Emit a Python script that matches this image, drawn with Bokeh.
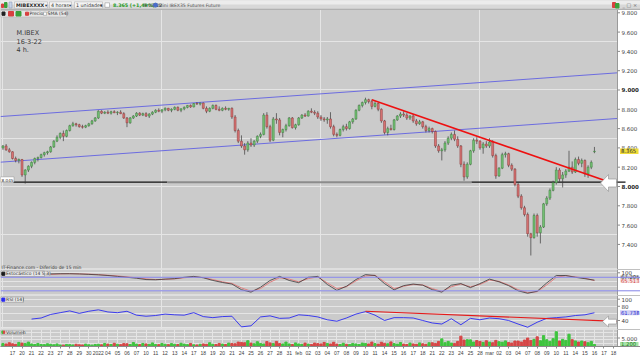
from bokeh.plotting import figure
from bokeh.layouts import column
from bokeh.models import Range1d, FixedTicker, AllLabels, Span
from bokeh.embed import file_html
from bokeh.resources import INLINE
from bokeh.core.properties import value

# ---------------- DATA ----------------
day_labels = ["17", "20", "21", "22", "23", "27", "28", "29", "30",
              "2022", "04", "05", "06", "07", "10", "11", "12", "13", "14", "17", "18", "19", "20", "21",
              "24", "25", "26", "27", "28", "31",
              "feb", "02", "03", "04", "07", "08", "09", "10", "11", "14", "15", "16", "17", "18",
              "21", "22", "23", "24", "25", "28",
              "mar", "02", "03", "04", "07", "08", "09", "10", "11", "14", "15", "16", "17", "18"]

# 4h bars (3 per session), Dec 16 2021 .. Mar 16 2022
opens = [8400, 8420, 8380, 8360, 8290, 8270, 8280, 8120, 8170, 8210, 8250, 8290,
         8300, 8330, 8350, 8360, 8410, 8470, 8510, 8550, 8520, 8580, 8630, 8650,
         8640, 8620, 8615, 8630, 8650, 8680, 8710, 8780, 8760, 8770, 8760, 8775,
         8765, 8770, 8755, 8710, 8660, 8710, 8730, 8760, 8740, 8755, 8730, 8750,
         8770, 8790, 8780, 8795, 8810, 8790, 8800, 8820, 8790, 8805, 8820, 8840,
         8825, 8860, 8855, 8865, 8810, 8780, 8810, 8840, 8800, 8790, 8810, 8800,
         8810, 8720, 8580, 8470, 8420, 8380, 8450, 8430, 8470, 8520, 8540, 8740,
         8620, 8480, 8700, 8690, 8560, 8590, 8630, 8710, 8610, 8640, 8710, 8740,
         8730, 8780, 8770, 8760, 8720, 8700, 8690, 8700, 8620, 8540, 8530, 8590,
         8620, 8600, 8670, 8700, 8790, 8840, 8870, 8900, 8880, 8830, 8860, 8800,
         8680, 8560, 8600, 8590, 8690, 8730, 8750, 8740, 8710, 8730, 8680, 8650,
         8670, 8620, 8580, 8600, 8570, 8420, 8370, 8380, 8450, 8500, 8540, 8490,
         8420, 8230, 8100, 8230, 8370, 8480, 8470, 8400, 8440, 8420, 8460, 8320,
         8110, 8190, 8330, 8340, 8220, 8180, 8020, 7900, 7780, 7710, 7510, 7470,
         7700, 7520, 7580, 7820, 7880, 7960, 8040, 8170, 8080, 8120, 8160, 8200,
         8150, 8280, 8240, 8270, 8130, 8200, 8360]
highs = [8430, 8440, 8400, 8365, 8310, 8290, 8285, 8180, 8220, 8260, 8300, 8310,
         8340, 8360, 8370, 8420, 8480, 8530, 8560, 8580, 8590, 8640, 8670, 8660,
         8650, 8640, 8640, 8660, 8690, 8720, 8790, 8790, 8780, 8790, 8785, 8790,
         8780, 8790, 8770, 8720, 8720, 8740, 8770, 8770, 8765, 8770, 8760, 8780,
         8800, 8810, 8800, 8820, 8815, 8810, 8830, 8830, 8810, 8830, 8845, 8850,
         8865, 8875, 8870, 8870, 8830, 8820, 8850, 8850, 8830, 8820, 8830, 8815,
         8820, 8740, 8600, 8530, 8450, 8470, 8500, 8480, 8530, 8560, 8760, 8770,
         8640, 8720, 8760, 8710, 8600, 8650, 8720, 8720, 8650, 8720, 8750, 8760,
         8790, 8810, 8790, 8780, 8740, 8720, 8720, 8770, 8640, 8560, 8600, 8640,
         8650, 8680, 8710, 8800, 8850, 8880, 8920, 8910, 8900, 8880, 8870, 8810,
         8690, 8620, 8640, 8700, 8740, 8770, 8780, 8760, 8740, 8750, 8700, 8690,
         8680, 8640, 8620, 8610, 8580, 8440, 8400, 8470, 8520, 8560, 8580, 8520,
         8430, 8260, 8250, 8380, 8500, 8510, 8480, 8460, 8470, 8500, 8480, 8340,
         8200, 8350, 8360, 8350, 8240, 8190, 8040, 7920, 7800, 7730, 7520, 7720,
         7720, 7600, 7830, 7900, 7980, 8060, 8200, 8190, 8150, 8180, 8370, 8260,
         8300, 8310, 8290, 8280, 8220, 8270, 8410]
lows = [8380, 8370, 8350, 8280, 8250, 8240, 8100, 8030, 8150, 8190, 8230, 8260,
        8290, 8310, 8330, 8350, 8400, 8460, 8490, 8470, 8510, 8570, 8620, 8620,
        8610, 8600, 8605, 8620, 8640, 8670, 8700, 8750, 8750, 8750, 8745, 8760,
        8740, 8750, 8700, 8615, 8650, 8700, 8720, 8730, 8730, 8720, 8710, 8740,
        8760, 8770, 8760, 8780, 8780, 8770, 8790, 8780, 8770, 8790, 8810, 8815,
        8820, 8845, 8840, 8800, 8760, 8770, 8800, 8790, 8780, 8780, 8790, 8785,
        8700, 8560, 8450, 8400, 8330, 8360, 8410, 8410, 8450, 8500, 8530, 8600,
        8460, 8470, 8650, 8530, 8510, 8570, 8620, 8600, 8590, 8630, 8700, 8720,
        8725, 8760, 8740, 8700, 8680, 8670, 8650, 8600, 8520, 8510, 8520, 8570,
        8580, 8590, 8650, 8690, 8780, 8820, 8850, 8860, 8800, 8820, 8780, 8660,
        8540, 8530, 8580, 8580, 8680, 8710, 8720, 8690, 8690, 8660, 8630, 8640,
        8600, 8560, 8560, 8550, 8400, 8350, 8270, 8360, 8430, 8480, 8470, 8400,
        8200, 8060, 8080, 8220, 8350, 8440, 8380, 8340, 8400, 8400, 8300, 8080,
        8100, 8180, 8300, 8200, 8160, 8000, 7880, 7760, 7690, 7480, 7285, 7460,
        7480, 7410, 7570, 7800, 7860, 7950, 8020, 8050, 7990, 8090, 8150, 8130,
        8140, 8220, 8200, 8100, 8090, 8180, 8345]
closes = [8420, 8380, 8360, 8290, 8270, 8280, 8120, 8170, 8210, 8250, 8290, 8300,
          8330, 8350, 8360, 8410, 8470, 8510, 8550, 8520, 8580, 8630, 8650, 8640,
          8620, 8615, 8630, 8650, 8680, 8710, 8780, 8760, 8770, 8760, 8775, 8765,
          8770, 8755, 8710, 8660, 8710, 8730, 8760, 8740, 8755, 8730, 8750, 8770,
          8790, 8780, 8795, 8810, 8790, 8800, 8820, 8790, 8805, 8820, 8840, 8825,
          8860, 8855, 8865, 8810, 8780, 8810, 8840, 8800, 8790, 8810, 8800, 8810,
          8720, 8580, 8470, 8420, 8380, 8450, 8430, 8470, 8520, 8540, 8740, 8620,
          8480, 8700, 8690, 8560, 8590, 8630, 8710, 8610, 8640, 8710, 8740, 8730,
          8780, 8770, 8760, 8720, 8700, 8690, 8700, 8620, 8540, 8530, 8590, 8620,
          8600, 8670, 8700, 8790, 8840, 8870, 8900, 8880, 8830, 8860, 8800, 8680,
          8560, 8600, 8590, 8690, 8730, 8750, 8740, 8710, 8730, 8680, 8650, 8670,
          8620, 8580, 8600, 8570, 8420, 8370, 8380, 8450, 8500, 8540, 8490, 8420,
          8230, 8100, 8230, 8370, 8480, 8470, 8400, 8440, 8420, 8460, 8320, 8110,
          8190, 8330, 8340, 8220, 8180, 8020, 7900, 7780, 7710, 7510, 7470, 7700,
          7520, 7580, 7820, 7880, 7960, 8040, 8170, 8080, 8120, 8160, 8200, 8150,
          8280, 8240, 8270, 8130, 8200, 8250, 8365]
volumes = [1800, 1500, 2200, 1600, 1300, 2400, 2000, 1700, 2600, 1500, 1200, 1800,
           1200, 1100, 1600, 1300, 1000, 1500, 900, 800, 1200, 1100, 900, 1300,
           1000, 900, 1400, 1000, 800, 1200, 1300, 1000, 1800, 1400, 1200, 1900,
           1300, 1100, 1700, 1600, 1200, 2300, 1400, 1100, 1800, 1500, 1300, 2100,
           1200, 1100, 1800, 1300, 1100, 1700, 1300, 1200, 1900, 1400, 1100, 1800,
           1000, 900, 1300, 1500, 1300, 2200, 1300, 1200, 1800, 1400, 1200, 2000,
           1800, 1600, 2600, 2400, 2200, 3400, 2000, 1600, 2800, 1800, 1500, 2900,
           2100, 1700, 3000, 1800, 1500, 2600, 1500, 1200, 2100, 1500, 1300, 2000,
           1400, 1200, 2000, 1700, 1500, 2400, 1800, 1500, 2500, 1400, 1200, 1900,
           1300, 1200, 1800, 1500, 1200, 2000, 1800, 1500, 2600, 1700, 1400, 2500,
           1900, 1600, 2700, 1700, 1400, 2300, 1400, 1200, 2000, 1500, 1300, 2100,
           1600, 1300, 2200, 2200, 1800, 3000, 4500, 2200, 3000, 2000, 1800, 3000,
           6100, 3800, 4000, 3900, 2600, 3500, 3000, 2400, 3400, 2600, 2200, 3600,
           2800, 2500, 3300, 2400, 2000, 3200, 3200, 2600, 3800, 5000, 3600, 4200,
           5700, 3400, 6400, 4000, 3000, 4600, 8700, 3200, 4200, 3600, 7200, 4000,
           3300, 2600, 3200, 2800, 2200, 3000, 1200]

# indicators sampled once per session (first value = session index given)
stoch_first_session = 4
stoch_k = [95, 96, 96, 95, 93, 91, 88, 84, 80, 76, 70, 69, 72, 74, 80, 84, 78, 66, 57, 50,
           25, 14, 36, 66, 84, 66, 56, 80, 84, 48, 22, 40, 70, 92, 88, 52, 24, 43, 50, 45,
           25, 14, 45, 52, 34, 52, 72, 60, 43, 20, 9, 18, 55, 88, 88, 80, 74, 67.2]
stoch_d = [93, 95, 96, 95, 94, 92, 89, 86, 82, 78, 73, 70, 71, 73, 78, 82, 79, 70, 60, 53,
           33, 18, 30, 58, 78, 72, 60, 74, 82, 55, 30, 38, 64, 86, 89, 60, 30, 40, 48, 46,
           30, 17, 38, 50, 38, 48, 68, 62, 46, 25, 12, 16, 46, 80, 87, 82, 76, 65.5]
rsi_first_session = 2
rsi = [44, 47, 57, 62, 67, 60, 66, 70, 64, 62, 66, 55, 52, 54, 58, 56, 55, 62, 51, 48,
       51, 52, 22, 25, 50, 53, 46, 47, 56, 54, 50, 42, 38, 47, 58, 65, 55, 40, 48, 48,
       47, 40, 33, 30, 45, 28, 46, 42, 47, 45, 40, 30, 21, 35, 46, 48, 50, 54, 56, 61.7]

# drawn trend lines (bar index, value)
channel_bars = [-0.77, 193.25]
channel_upper = [8725, 9178]
channel_lower = [8252, 8705]
downtrend_bars = [116, 192]
downtrend_prices = [8900, 8030]
support_level = 8045
support_bars = [3.3, 51.7, 147.3, 193.25]
rsi_trend_bars = [114, 193.25]
rsi_trend_vals = [66, 37.5]
stoch_bands = [80, 20]

price_ticks = [7400, 7600, 7800, 8000, 8200, 8400, 8600, 8800, 9000, 9200, 9400, 9600, 9800]
price_tick_labels = ["7.400", "7.600", "7.800", "8.000", "8.200", "8.400", "8.600", "8.800",
                     "9.000", "9.200", "9.400", "9.600", "9.800"]
stoch_ticks, stoch_tick_labels = [100], ["100"]
rsi_ticks, rsi_tick_labels = [40, 80, 100], ["40", "80", "100"]
vol_ticks, vol_tick_labels = [5000], ["5.000"]

last_price = 8365
last_price_label = "8.365"
stoch_last = ["67.205", "65.513"]
rsi_last_val, rsi_last = 61.738, "61.738"
vol_last = "1.200"

# ---------------- STYLE / GEOMETRY ----------------
FONT = "DejaVu Sans"
XFONT = "Liberation Sans"
BG = "#cbcbcb"
XR0, XR1 = -0.77, 193.25          # plot area: pixel 0 .. 617
FW = 617
XE = XR0 + 640 * (XR1 - XR0) / FW  # right edge of the page (axis column)
xr = Range1d(XR0, XE)
PR = (7140, 9927.3)   # price panel: pixel rows 0..269
SR = (-0.9, 114.7)    # rows 269..295
RR = (14.6, 110.4)    # rows 295..329
VR = (0, 10000)       # rows 329..349


def PX(p):
    return XR0 + p * (XR1 - XR0) / FW


def fig(h, yr, xaxis=False, bb=0):
    p = figure(width=640, height=h, x_range=xr, y_range=Range1d(*yr), toolbar_location=None,
               output_backend="svg", x_axis_location=("below" if xaxis else None),
               y_axis_location=None, min_border_left=0, min_border_right=0,
               min_border_top=0, min_border_bottom=bb,
               background_fill_color=BG, border_fill_color="white",
               outline_line_color="#dedede", outline_line_width=1)
    return p


def txt(p, xs, ys, texts, size="5px", color="#333333", bold=False, align="left", font=FONT):
    p.text(x=xs, y=ys, text=texts, text_font=value(font), text_font_size=value(size),
           text_color=color, text_baseline="middle", text_align=align,
           text_font_style=("bold" if bold else "normal"))


def yaxis(p, yr, ticks, labels, bold_ticks=()):
    p.quad(left=[XR1], right=[XE], bottom=[yr[0]], top=[yr[1]], fill_color="white", line_color=None)
    p.segment(x0=[XR1, XR1], x1=[XR1, XE], y0=[yr[0], yr[1]], y1=[yr[1], yr[1]],
              color="#9a9a9a", line_width=1)
    p.segment(x0=[XR1] * len(ticks), x1=[PX(619.5)] * len(ticks), y0=ticks, y1=ticks,
              color="#8a8a8a", line_width=1)
    norm = [(t, l) for t, l in zip(ticks, labels) if t not in bold_ticks]
    bold = [(t, l) for t, l in zip(ticks, labels) if t in bold_ticks]
    if norm:
        txt(p, [PX(621)] * len(norm), [t for t, _ in norm], [l for _, l in norm],
            size="5.5px", color="#3c3c3c")
    if bold:
        txt(p, [PX(621)] * len(bold), [t for t, _ in bold], [l for _, l in bold],
            size="5.5px", color="#1e1e1e", bold=True)


def tag(p, y, half, text, bg, fg):
    p.quad(left=[PX(619.5)], right=[PX(638)], bottom=[y - half], top=[y + half],
           fill_color=bg, line_color=None)
    txt(p, [PX(620.5)], [y], [text], size="5.3px", color=fg)


n = len(closes)
bx = list(range(n))
up = [c >= o for o, c in zip(opens, closes)]

# ---------------- PRICE PANEL (incl. window toolbar) ----------------
f1 = fig(269, PR)
PS = (PR[1] - PR[0]) / 269


def PY(py):
    return PR[1] - py * PS


f1.line(channel_bars, channel_upper, color="#6c6ce0", line_width=1)
f1.line(channel_bars, channel_lower, color="#6c6ce0", line_width=1)
f1.segment(x0=[support_bars[0], support_bars[2]], y0=[support_level] * 2,
           x1=[support_bars[1], support_bars[3]], y1=[support_level] * 2,
           color="#111111", line_width=1.3)
f1.segment(x0=[support_bars[1]], y0=[support_level], x1=[support_bars[2]], y1=[support_level],
           color="#8c8c8c", line_width=2)

f1.segment(x0=bx, y0=lows, x1=bx, y1=highs, color="#3a3a3a", line_width=0.7)
tops = [max(o, c) for o, c in zip(opens, closes)]
bots = [min(o, c) for o, c in zip(opens, closes)]
f1.vbar(x=bx, top=tops, bottom=bots, width=0.62,
        fill_color=["#74c274" if u else "#d97474" for u in up],
        line_color=["#3f7f3f" if u else "#8a3a3a" for u in up], line_width=0.5)
f1.line(downtrend_bars, downtrend_prices, color="#ee1010", line_width=1.6)

ax_px = [600, 608, 608, 616, 616, 608, 608]
ax_py = [182.5, 174, 178.5, 178.5, 186.5, 186.5, 191]
f1.patch([PX(v) for v in ax_px], [PY(v) for v in ax_py], fill_color="white",
         line_color="#9a9a9a", line_width=0.7)

f1.quad(left=[PX(0)], right=[PX(13.5)], top=[PY(176.3)], bottom=[PY(181.6)],
        fill_color="white", line_color="#8a8a8a", line_width=0.5)
txt(f1, [PX(1)], [PY(179)], ["8.045"], size="4.2px", color="#333333")

# legend row
f1.quad(left=[PX(0)], right=[PX(66)], top=[PY(10)], bottom=[PY(16.5)],
        fill_color="#e4e4e4", line_color="#b0b0b0", line_width=0.5)
f1.quad(left=[PX(1.5), PX(8), PX(15.5), PX(25)], right=[PX(4.5), PX(13), PX(20.5), PX(28)],
        top=[PY(11.5), PY(11), PY(11), PY(11.7)], bottom=[PY(14.8), PY(15.5), PY(15.5), PY(14.8)],
        color=["#222222", "#d84040", "#3aa03a", "#d84040"])
f1.quad(left=[PX(43)], right=[PX(46)], top=[PY(11.7)], bottom=[PY(14.8)], fill_color="white",
        line_color="#888888", line_width=0.5)
txt(f1, [PX(29), PX(47)], [PY(13.3), PY(13.3)], ["Precio", "SMA (54)"], size="4.6px", color="#333333")

txt(f1, [PX(16)] * 3, [PY(32), PY(41), PY(49.5)], ["M.IBEX", "16-3-22", "4 h."],
    size="6.5px", color="#3a3a3a")
txt(f1, [PX(1)], [PY(266.5)], ["IT-Finance.com - Diferido de 15 min"], size="4.5px", color="#333333")

yaxis(f1, PR, price_ticks, price_tick_labels, bold_ticks=(8000, 9000))
f1.segment(x0=[XR1], x1=[PX(625)], y0=[support_level], y1=[support_level], color="#111111", line_width=1.3)
tag(f1, last_price, 2.8 * PS, last_price_label, "#f0dc38", "#333333")

# window toolbar (top 9 px, full width)
f1.quad(left=[PX(0)], right=[PX(640)], top=[PY(0)], bottom=[PY(4.5)], color="#ececec")
f1.quad(left=[PX(0)], right=[PX(640)], top=[PY(4.5)], bottom=[PY(9)], color="#d8d8d8")
f1.segment(x0=[PX(0)], y0=[PY(8.8)], x1=[PX(640)], y1=[PY(8.8)], color="#9a9a9a", line_width=0.8)
f1.quad(left=[PX(1), PX(4)], right=[PX(3), PX(6.5)], top=[PY(3.5), PY(2)], bottom=[PY(7), PY(7)],
        color=["#d84040", "#3aa03a"])
f1.quad(left=[PX(8.5)], right=[PX(11.5)], top=[PY(1.5)], bottom=[PY(7.5)], fill_color="#c8d4e8",
        line_color="#8090b0", line_width=0.5)
f1.quad(left=[PX(14), PX(49), PX(74)], right=[PX(47), PX(71), PX(102)],
        top=[PY(1.3)] * 3, bottom=[PY(7.7)] * 3,
        fill_color="#f4f4f4", line_color="#a8a8a8", line_width=0.5)
txt(f1, [PX(15.5)], [PY(4.6)], ["MIBEXXXX"], size="4.8px", color="#222222", bold=True)
txt(f1, [PX(50.5), PX(75.5)], [PY(4.6)] * 2, ["4 horas", "1 unidades"], size="4.8px", color="#333333")
txt(f1, [PX(44.5), PX(68.5), PX(99.5)], [PY(4.6)] * 3, ["▾", "▾", "▾"], size="4.5px", color="#333333")
f1.quad(left=[PX(104.5)], right=[PX(109)], top=[PY(2.3)], bottom=[PY(6.8)], fill_color="white",
        line_color="#888888", line_width=0.5)
txt(f1, [PX(112.5)], [PY(4.6)], ["8.365 (+1,49%)"], size="4.8px", color="#1c9a1c", bold=True)
txt(f1, [PX(143)], [PY(4.6)], ["9:08:22"], size="4.8px", color="#333333")
f1.scatter(x=[PX(155)], y=[PY(4.6)], size=4, color="#4a6cc8")
txt(f1, [PX(158)], [PY(4.6)], ["Mini IBEX35 Futures Future"], size="4.6px", color="#555555")
f1.quad(left=[PX(612), PX(615)], right=[PX(615), PX(618.5)], top=[PY(2), PY(3)], bottom=[PY(7), PY(7.5)],
        color=["#d84040", "#3aa03a"])
txt(f1, [PX(622)], [PY(4.4)], ["_ □ ×"], size="5px", color="#666666")

# ---------------- STOCHASTIC ----------------
f2 = fig(26, SR)
SS = (SR[1] - SR[0]) / 26


def SY(py):
    return SR[1] - (py - 269) * SS


for b in stoch_bands:
    f2.add_layout(Span(location=b, dimension="width", line_color="#8484e8", line_width=1))
sx = [3 + 3 * (stoch_first_session + i) for i in range(len(stoch_k))]
f2.line(sx, stoch_d, color="#e08080", line_width=1)
f2.line(sx, stoch_k, color="#3a3a3a", line_width=0.8)
f2.quad(left=[PX(0)], right=[PX(44)], top=[SY(270.5)], bottom=[SY(276)],
        fill_color="#e6e6e6", line_color="#8a8a8a", line_width=0.5)
f2.quad(left=[PX(1.3)], right=[PX(4.3)], top=[SY(271.7)], bottom=[SY(274.8)], color="#1a1a1a")
txt(f2, [PX(5.5)], [SY(273.3)], ["Estocástico (14 5 3)"], size="4.5px", color="#333333")
yaxis(f2, SR, stoch_ticks, stoch_tick_labels)
tag(f2, SY(276.6), 1.7 * SS, stoch_last[0], "#d2d2d2", "#333333")
tag(f2, SY(280.3), 1.7 * SS, stoch_last[1], "#f6e0e0", "#d04040")

# ---------------- RSI ----------------
f3 = fig(34, RR)
RS = (RR[1] - RR[0]) / 34


def RY(py):
    return RR[1] - (py - 295) * RS


rx = [3 + 3 * (rsi_first_session + i) for i in range(len(rsi))]
f3.line(rx, rsi, color="#2a2af0", line_width=0.9)
f3.line(rsi_trend_bars, rsi_trend_vals, color="#e41a1a", line_width=1.2)
ar_px = [602, 608, 608, 616, 616, 608, 608]
ar_py = [321, 315.5, 318.7, 318.7, 323.5, 323.5, 326.5]
f3.patch([PX(v) for v in ar_px], [RY(v) for v in ar_py], fill_color="white",
         line_color="#9a9a9a", line_width=0.7)
f3.quad(left=[PX(0)], right=[PX(23)], top=[RY(296.5)], bottom=[RY(301.8)],
        fill_color="#e6e6e6", line_color="#8a8a8a", line_width=0.5)
f3.quad(left=[PX(1.3)], right=[PX(4.3)], top=[RY(297.6)], bottom=[RY(300.7)], color="#2a2af0")
txt(f3, [PX(5.5)], [RY(299.2)], ["RSI (14)"], size="4.5px", color="#333333")
yaxis(f3, RR, rsi_ticks, rsi_tick_labels)
tag(f3, rsi_last_val, 2.6 * RS, rsi_last, "#cfcff4", "#2a2ad0")

# ---------------- VOLUME ----------------
f4 = fig(29, VR, xaxis=True, bb=9)
VH = 20
VS = (VR[1] - VR[0]) / VH


def VY(py):
    return VR[1] - (py - 329) * VS


f4.vbar(x=bx, top=volumes, bottom=0, width=0.7,
        color=["#3ec43e" if u else "#d64646" for u in up])
f4.quad(left=[PX(0)], right=[PX(23)], top=[VY(329.8)], bottom=[VY(334.6)],
        fill_color="#e6e6e6", line_color="#8a8a8a", line_width=0.5)
f4.quad(left=[PX(1.3), PX(2.8)], right=[PX(2.8), PX(4.3)], top=[VY(330.8)] * 2, bottom=[VY(333.6)] * 2,
        color=["#3ec43e", "#d64646"])
txt(f4, [PX(5.5)], [VY(332.2)], ["Volumen"], size="4.5px", color="#333333")
yaxis(f4, VR, vol_ticks, vol_tick_labels)
tag(f4, VY(346.3), 2.5 * VS, vol_last, "#a6e4a6", "#1f7a1f")

xa = f4.xaxis[0]
xa.major_tick_out = 2
xa.major_tick_in = 0
xa.minor_tick_out = 0
xa.minor_tick_in = 0
xa.major_label_standoff = 1
xa.major_label_text_font = XFONT
xa.major_label_text_font_size = "5px"
xa.major_label_text_color = "#3c3c3c"
xa.axis_line_color = "#8a8a8a"
xa.major_tick_line_color = "#8a8a8a"
xa.major_label_policy = AllLabels()
ticks = [3 + 3 * j for j in range(len(day_labels))]
xa.ticker = FixedTicker(ticks=ticks)
xa.major_label_overrides = {t: lab for t, lab in zip(ticks, day_labels)}

layout = column(f1, f2, f3, f4, spacing=0)
open("out.html", "w").write(file_html(layout, INLINE))
